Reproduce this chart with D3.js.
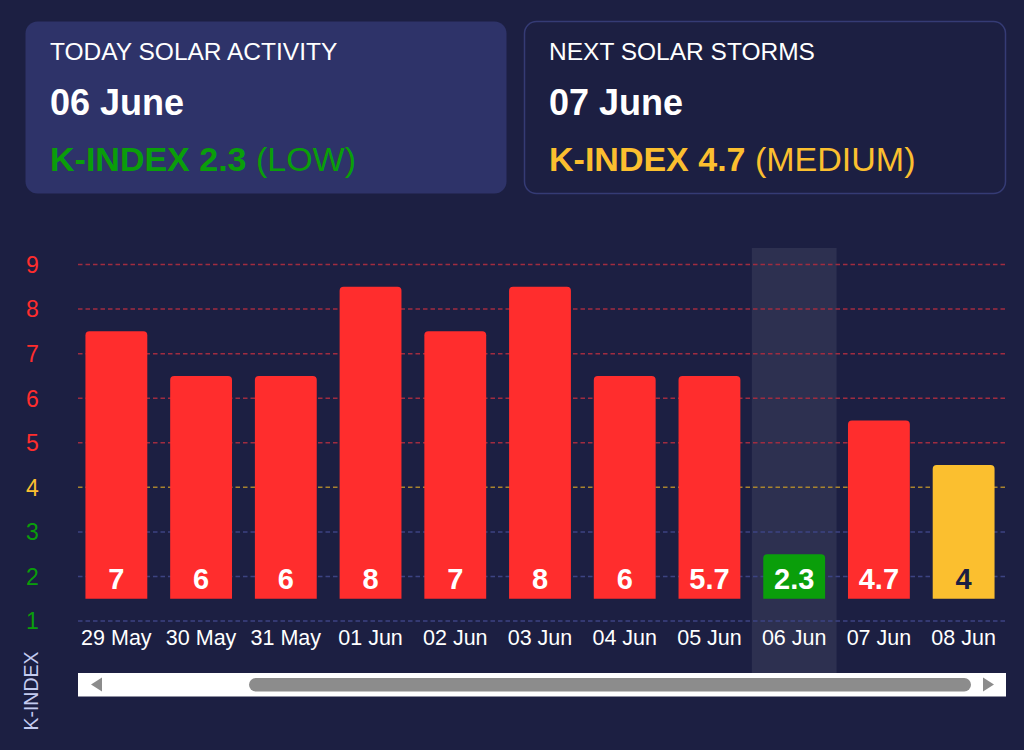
<!DOCTYPE html>
<html>
<head>
<meta charset="utf-8">
<script src="https://cdn.jsdelivr.net/npm/d3@7"></script>
<style>
  body { margin: 0; background: #1c1f42; }
  svg { display: block; font-family: "Liberation Sans", Arial, sans-serif; }
</style>
</head>
<body>
<svg></svg>
<script>
let dates = ["29 May", "30 May", "31 May", "01 Jun", "02 Jun", "03 Jun", "04 Jun", "05 Jun", "06 Jun", "07 Jun", "08 Jun"];
let kValues = [7, 6, 6, 8, 7, 8, 6, 5.7, 2.3, 4.7, 4];
let barTops = [7.5, 6.5, 6.5, 8.5, 7.5, 8.5, 6.5, 6.5, 2.5, 5.5, 4.5];
let barBase = 1.5;
let yTicks = [1, 2, 3, 4, 5, 6, 7, 8, 9];
let today = "06 Jun";

let width = 1024;
let height = 750;

let red = "#ff2d2d";
let yellow = "#fbbf2f";
let green = "#0a9e0a";
let bg = "#1c1f42";

let levelColor = (v) => {
  let r = Math.round(v);
  if (r >= 5) return red;
  if (r == 4) return yellow;
  return green;
};
let gridColor = (v) => {
  if (v >= 5) return "#a02c40";
  if (v == 4) return "#a8842e";
  return "#3c4382";
};

let svg = d3.select("svg").attr("width", width).attr("height", height);

// header cards
let drawCards = () => {
  let cards = [
    { x: 25, title: "TODAY SOLAR ACTIVITY", date: "06 June", k: "K-INDEX 2.3", lvl: "(LOW)", color: green, fill: "#2e3369", stroke: "none" },
    { x: 524, title: "NEXT SOLAR STORMS", date: "07 June", k: "K-INDEX 4.7", lvl: "(MEDIUM)", color: yellow, fill: bg, stroke: "#353b75" },
  ];
  cards.forEach((c) => {
    let g = svg.append("g").attr("transform", "translate(" + c.x + ",21)");
    g.append("rect")
      .attr("x", 0.5).attr("y", 0.5)
      .attr("width", 481).attr("height", 172)
      .attr("rx", 12)
      .attr("fill", c.fill)
      .attr("stroke", c.stroke)
      .attr("stroke-width", 1.5);
    g.append("text").attr("x", 25).attr("y", 39)
      .attr("fill", "#fff").attr("font-size", 24.5).text(c.title);
    g.append("text").attr("x", 25).attr("y", 94)
      .attr("fill", "#fff").attr("font-size", 36).attr("font-weight", "bold").text(c.date);
    let t = g.append("text").attr("x", 25).attr("y", 150)
      .attr("fill", c.color).attr("font-size", 34);
    t.append("tspan").attr("font-weight", "bold").text(c.k);
    t.append("tspan").text(" " + c.lvl);
  });
};

let xScale = d3.scaleBand()
  .domain(dates)
  .range([74, 1006])
  .paddingInner(0.27)
  .paddingOuter(0.135);

let yScale = d3.scaleLinear().domain([1, 9]).range([621, 264.5]);

let drawChart = () => {
  let step = xScale.step();
  let gap = step - xScale.bandwidth();

  // highlight today column
  svg.append("rect")
    .attr("x", xScale(today) - gap / 2)
    .attr("y", 248)
    .attr("width", step)
    .attr("height", 425)
    .attr("fill", "#ffffff")
    .attr("opacity", 0.08);

  // grid
  svg.append("g")
    .selectAll("line")
    .data(yTicks)
    .enter()
    .append("line")
    .attr("x1", 78)
    .attr("x2", 1006)
    .attr("y1", (d) => yScale(d))
    .attr("y2", (d) => yScale(d))
    .attr("stroke", (d) => gridColor(d))
    .attr("stroke-width", 1.5)
    .attr("stroke-dasharray", "4.5,3");

  // y axis labels
  let yAxis = d3.axisLeft(yScale).tickValues(yTicks).tickSize(0).tickPadding(0);
  let gy = svg.append("g").attr("transform", "translate(40,0)").call(yAxis);
  gy.select(".domain").remove();
  gy.selectAll("text")
    .attr("font-family", null)
    .attr("font-size", 23)
    .attr("text-anchor", "middle")
    .attr("x", -7.5)
    .attr("dy", "0.34em")
    .attr("fill", (d) => levelColor(d));

  // bars, rounded top corners
  let r = 4;
  let bw = xScale.bandwidth();
  svg.append("g")
    .selectAll("path")
    .data(dates)
    .enter()
    .append("path")
    .attr("fill", (d, i) => levelColor(kValues[i]))
    .attr("d", (d, i) => {
      let x0 = xScale(d);
      let y0 = yScale(barTops[i]);
      let y1 = yScale(barBase);
      return "M" + x0 + "," + y1 +
        "V" + (y0 + r) +
        "Q" + x0 + "," + y0 + " " + (x0 + r) + "," + y0 +
        "H" + (x0 + bw - r) +
        "Q" + (x0 + bw) + "," + y0 + " " + (x0 + bw) + "," + (y0 + r) +
        "V" + y1 + "Z";
    });

  // value labels
  svg.append("g")
    .selectAll("text")
    .data(dates)
    .enter()
    .append("text")
    .attr("x", (d) => xScale(d) + bw / 2)
    .attr("y", 589)
    .attr("text-anchor", "middle")
    .attr("font-size", 29)
    .attr("font-weight", "bold")
    .attr("fill", (d, i) => (levelColor(kValues[i]) == yellow ? bg : "#fff"))
    .text((d, i) => kValues[i]);

  // x axis labels
  let xAxis = d3.axisBottom(xScale).tickSize(0).tickPadding(0);
  let gx = svg.append("g").attr("transform", "translate(0,645)").call(xAxis);
  gx.select(".domain").remove();
  gx.selectAll("text")
    .attr("font-family", null)
    .attr("font-size", 21.5)
    .attr("dy", 0)
    .attr("y", 0)
    .attr("fill", "#fff");

  // axis title
  svg.append("text")
    .attr("transform", "translate(38,691) rotate(-90)")
    .attr("text-anchor", "middle")
    .attr("font-size", 19.5)
    .attr("fill", "#c3cbf0")
    .text("K-INDEX");
};

let drawScrollbar = () => {
  let g = svg.append("g");
  g.append("rect").attr("x", 78).attr("y", 673).attr("width", 928).attr("height", 23.5).attr("fill", "#fff");
  g.append("rect").attr("x", 249).attr("y", 678).attr("width", 722).attr("height", 13.5).attr("rx", 6.75).attr("fill", "#8c8c8c");
  g.append("path").attr("d", "M91,684.5 L102,677.5 L102,691.5 Z").attr("fill", "#8c8c8c");
  g.append("path").attr("d", "M994,684.5 L983,677.5 L983,691.5 Z").attr("fill", "#8c8c8c");
};

drawCards();
drawChart();
drawScrollbar();
</script>
</body>
</html>
